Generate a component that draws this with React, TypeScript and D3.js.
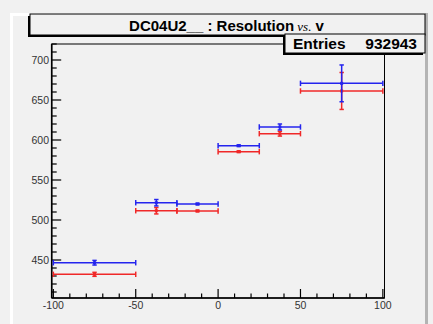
import React from "react";
import * as d3 from "d3";

const binLow = [-100, -50, -25, 0, 25, 50];
const binHigh = [-50, -25, 0, 25, 50, 100];
const xCenter = [-75, -37.5, -12.5, 12.5, 37.5, 75];
const blueY = [446.6, 521.6, 520.0, 592.9, 616.3, 670.8];
const blueErr = [2.9, 4.0, 1.0, 1.0, 3.7, 23.0];
const redY = [432.1, 511.6, 511.3, 585.4, 607.9, 661.3];
const redErr = [2.5, 4.0, 1.0, 1.0, 3.0, 23.1];
const xTicks = [-100, -50, 0, 50, 100];
const xTickLabels = ["-100", "-50", "0", "50", "100"];
const yTicks = [450, 500, 550, 600, 650, 700];
const yTickLabels = ["450", "500", "550", "600", "650", "700"];
const entries = "932943";

const W = 433;
const H = 324;
const F = { l: 51.7, r: 384.5, t: 44, b: 298 };

export default function App() {
  const x = d3.scaleLinear().domain([-101, 101]).range([F.l, F.r]);
  const y = d3.scaleLinear().domain([402.5, 720]).range([F.b, F.t]);
  const xMinor = d3.range(-100, 101, 10).filter((v) => v % 50 !== 0);
  const yMinor = d3.range(410, 721, 10).filter((v) => v % 50 !== 0);
  const bg = "#f1f1f1";
  const font = "'Liberation Sans', Arial, Helvetica, sans-serif";

  const series = [
    { ys: redY, es: redErr, c: "#f02828" },
    { ys: blueY, es: blueErr, c: "#2424ee" },
  ];

  return (
    <svg width={W} height={H} style={{ position: "absolute", left: 0, top: 0, display: "block" }}>
      <rect x={0} y={0} width={W} height={H} fill={bg} />
      {/* canvas bevel */}
      <rect x={10} y={13} width={3} height={H - 13} fill="#ffffff" />
      <rect x={10} y={13} width={418} height={3} fill="#ffffff" />
      <rect x={425} y={13} width={3} height={H - 13} fill="#b4b4b4" />

      {/* frame */}
      <rect x={F.l} y={F.t} width={F.r - F.l} height={F.b - F.t} fill={bg} stroke="#000" strokeWidth={1} />
      <line x1={F.l} x2={F.l} y1={F.t} y2={F.b} stroke="#000" strokeWidth={1.6} />
      <line x1={F.l} x2={F.r} y1={F.b} y2={F.b} stroke="#000" strokeWidth={1.6} />

      {/* x ticks */}
      {xTicks.map((v) => (
        <line key={"xt" + v} x1={x(v)} x2={x(v)} y1={F.b} y2={F.b - 9} stroke="#000" strokeWidth={1.2} />
      ))}
      {xMinor.map((v) => (
        <line key={"xm" + v} x1={x(v)} x2={x(v)} y1={F.b} y2={F.b - 4.5} stroke="#000" strokeWidth={1.2} />
      ))}
      {xTicks.map((v, i) => (
        <text key={"xl" + v} x={x(v)} y={309} textAnchor="middle" fontFamily={font} fontSize={10.5} fill="#333">
          {xTickLabels[i]}
        </text>
      ))}

      {/* y ticks */}
      {yTicks.map((v) => (
        <line key={"yt" + v} x1={F.l} x2={F.l + 9.5} y1={y(v)} y2={y(v)} stroke="#000" strokeWidth={1.2} />
      ))}
      {yMinor.map((v) => (
        <line key={"ym" + v} x1={F.l} x2={F.l + 5} y1={y(v)} y2={y(v)} stroke="#000" strokeWidth={1.2} />
      ))}
      {yTicks.map((v, i) => (
        <text key={"yl" + v} x={49} y={y(v) + 3.8} textAnchor="end" fontFamily={font} fontSize={10.5} fill="#333">
          {yTickLabels[i]}
        </text>
      ))}

      {/* data */}
      {series.map((s, si) => (
        <g key={"s" + si} stroke={s.c} fill={s.c} strokeWidth={1.5}>
          {xCenter.map((xc, i) => {
            const cy = y(s.ys[i]);
            const x0 = Math.max(x(binLow[i]), F.l);
            const x1 = Math.min(x(binHigh[i]), F.r);
            const yt = y(s.ys[i] + s.es[i]);
            const yb = y(s.ys[i] - s.es[i]);
            const cx = x(xc);
            return (
              <g key={i}>
                <line x1={x0} x2={x1} y1={cy} y2={cy} />
                <line x1={x0} x2={x0} y1={cy - 2.7} y2={cy + 2.7} />
                <line x1={x1} x2={x1} y1={cy - 2.7} y2={cy + 2.7} />
                <line x1={cx} x2={cx} y1={yt} y2={yb} />
                <line x1={cx - 2.2} x2={cx + 2.2} y1={yt} y2={yt} />
                <line x1={cx - 2.2} x2={cx + 2.2} y1={yb} y2={yb} />
                <rect x={cx - 1.5} y={cy - 1.5} width={3} height={3} stroke="none" />
              </g>
            );
          })}
        </g>
      ))}

      {/* title box */}
      <rect x={28} y={16} width={395} height={21} fill="#000" />
      <rect x={30} y={14} width={395} height={21} fill={bg} stroke="#000" strokeWidth={1} />
      <text x={226.5} y={30.5} textAnchor="middle" fontFamily={font} fontSize={15} fontWeight="bold" fill="#000">
        DC04U2__ : Resolution
        <tspan fontFamily="'Liberation Serif', 'Times New Roman', serif" fontStyle="italic" fontWeight="normal" fontSize={13}> vs.</tspan>
        <tspan> v</tspan>
      </text>

      {/* stats box */}
      <rect x={283} y={36} width={140} height={19} fill="#000" />
      <rect x={285} y={34} width={140} height={19} fill={bg} stroke="#000" strokeWidth={1} />
      <text x={293} y={48.5} fontFamily={font} fontSize={15.5} fontWeight="bold" fill="#000">
        Entries
      </text>
      <text x={417} y={48.5} textAnchor="end" fontFamily={font} fontSize={15.5} fontWeight="bold" fill="#000">
        {entries}
      </text>
    </svg>
  );
}
